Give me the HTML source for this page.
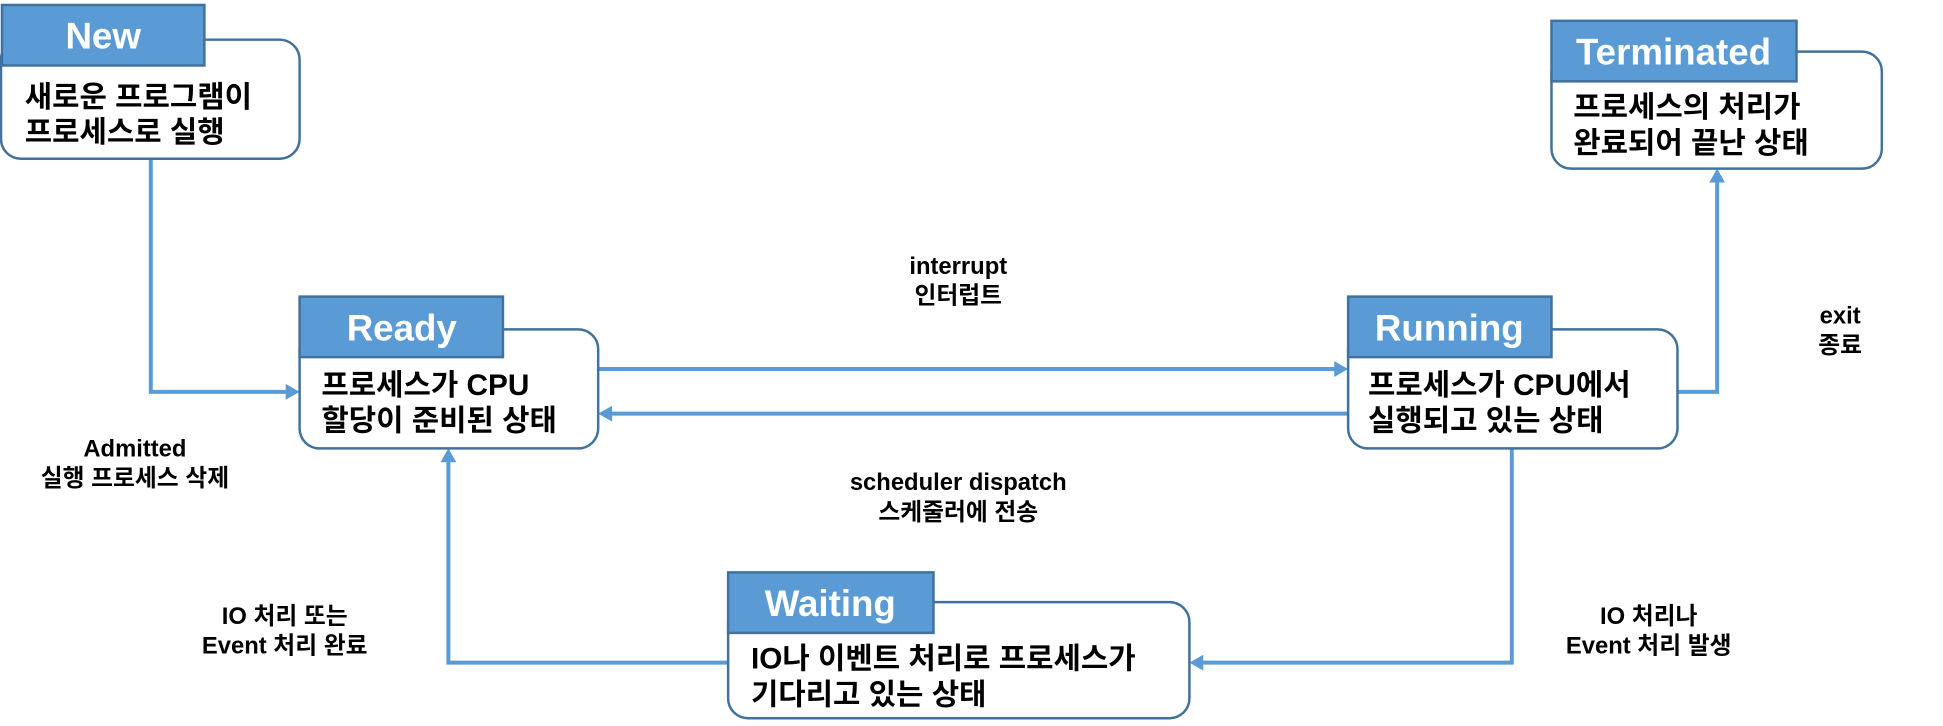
<!DOCTYPE html>
<html><head><meta charset="utf-8"><style>
html,body{margin:0;padding:0;background:#fff;}
svg{display:block;}
text{font-family:"Liberation Sans","Noto Sans CJK KR",sans-serif;font-weight:bold;}
.b{font-size:30px;fill:#000;}
.h{font-size:37px;fill:#fff;}
.l{font-size:24px;fill:#000;text-anchor:middle;}
.box{fill:#fff;stroke:#41719c;stroke-width:2.5;}
.hd{fill:#5b9bd5;stroke:#41719c;stroke-width:2.5;}
.ln{fill:none;stroke:#5b9bd5;stroke-width:4;}
.ar{fill:#5b9bd5;}
</style></head><body>
<svg width="1943" height="726" viewBox="0 0 1943 726" xmlns="http://www.w3.org/2000/svg">
<g transform="scale(0.992)">
<!-- connectors -->
<polyline class="ln" points="152,160 152,395 290,395"/>
<polygon class="ar" points="302,395 288,387 288,403"/>
<line class="ln" x1="603" y1="372" x2="1347" y2="372"/>
<polygon class="ar" points="1359,372 1345,364 1345,380"/>
<line class="ln" x1="1359" y1="417" x2="615" y2="417"/>
<polygon class="ar" points="603,417 617,409 617,425"/>
<polyline class="ln" points="1691,395 1731,395 1731,182"/>
<polygon class="ar" points="1731,170 1723,184 1739,184"/>
<polyline class="ln" points="1524,452 1524,668 1211,668"/>
<polygon class="ar" points="1199,668 1213,660 1213,676"/>
<polyline class="ln" points="734,668 452,668 452,464"/>
<polygon class="ar" points="452,452 444,466 460,466"/>

<!-- New -->
<rect class="box" x="1" y="40" width="301" height="120" rx="20"/>
<rect class="hd" x="2" y="5" width="204" height="61"/>
<text class="h" x="104" y="49" text-anchor="middle">New</text>
<text class="b" x="25" y="108">새로운 프로그램이</text>
<text class="b" x="25" y="143">프로세스로 실행</text>

<!-- Ready -->
<rect class="box" x="302" y="332" width="301" height="120" rx="20"/>
<rect class="hd" x="302" y="299" width="205" height="61"/>
<text class="h" x="405" y="343" text-anchor="middle">Ready</text>
<text class="b" x="324" y="398">프로세스가 CPU</text>
<text class="b" x="324" y="434">할당이 준비된 상태</text>

<!-- Running -->
<rect class="box" x="1359" y="332" width="332" height="120" rx="20"/>
<rect class="hd" x="1359" y="299" width="205" height="61"/>
<text class="h" x="1461" y="343" text-anchor="middle">Running</text>
<text class="b" x="1379" y="398">프로세스가 CPU에서</text>
<text class="b" x="1379" y="434">실행되고 있는 상태</text>

<!-- Terminated -->
<rect class="box" x="1564" y="52" width="333" height="118" rx="20"/>
<rect class="hd" x="1564" y="21" width="247" height="61"/>
<text class="h" x="1687" y="65" text-anchor="middle">Terminated</text>
<text class="b" x="1586" y="118">프로세스의 처리가</text>
<text class="b" x="1586" y="154">완료되어 끝난 상태</text>

<!-- Waiting -->
<rect class="box" x="734" y="607" width="465" height="117" rx="20"/>
<rect class="hd" x="734" y="577" width="207" height="61"/>
<text class="h" x="837" y="621" text-anchor="middle">Waiting</text>
<text class="b" x="757" y="674">IO나 이벤트 처리로 프로세스가</text>
<text class="b" x="757" y="710">기다리고 있는 상태</text>

<!-- labels -->
<text class="l" x="966" y="276">interrupt</text>
<text class="l" x="966" y="306">인터럽트</text>
<text class="l" x="136" y="460">Admitted</text>
<text class="l" x="136" y="490">실행 프로세스 삭제</text>
<text class="l" x="966" y="494">scheduler dispatch</text>
<text class="l" x="966" y="524">스케줄러에 전송</text>
<text class="l" x="1855" y="326">exit</text>
<text class="l" x="1855" y="356">종료</text>
<text class="l" x="287" y="629">IO 처리 또는</text>
<text class="l" x="287" y="659">Event 처리 완료</text>
<text class="l" x="1662" y="629">IO 처리나</text>
<text class="l" x="1662" y="659">Event 처리 발생</text>
</g>
</svg>
</body></html>
